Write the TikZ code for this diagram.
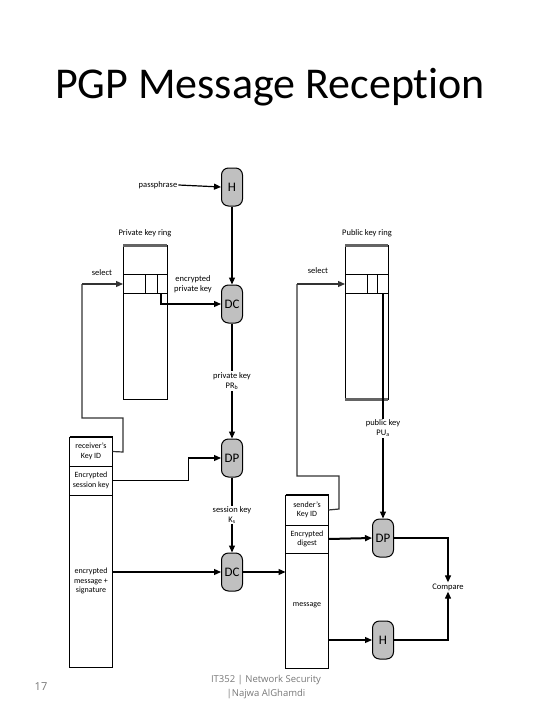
\documentclass[tikz,border=0pt]{standalone}
\usepackage{fontspec}
\setmainfont[Ligatures=NoCommon]{Carlito}
\newfontfamily\footfont{Open Sans}
\usetikzlibrary{arrows.meta,positioning}
\definecolor{boxgray}{RGB}{192,192,192}
\definecolor{edgegray}{RGB}{100,100,100}
\definecolor{footgray}{RGB}{120,120,120}
\tikzset{
  crypt/.style={draw, line width=1pt, fill=boxgray, rounded corners=7pt,
    minimum width=21pt, minimum height=38pt, inner sep=0pt,
    font=\fontsize{13}{13}\selectfont},
  field/.style={draw, line width=1pt, minimum width=43pt, inner sep=1pt,
    outer sep=0pt, align=center, font=\fontsize{8}{9.5}\selectfont},
  lbl/.style={font=\fontsize{8.5}{10}\selectfont, align=center, inner sep=1pt},
  conn/.style={line width=1.2pt, -{Triangle[length=7pt,width=6pt]}},
  selline/.style={line width=1.2pt, black!80},
}
\begin{document}
\begin{tikzpicture}[x=1pt, y=-1pt]
  \useasboundingbox (0,0) rectangle (540,720);
  % Title
  \node[anchor=base, font=\fontsize{44}{44}\selectfont] (title) at (270,98) {PGP Message Reception};

  % Private key ring
  \node[lbl] (prvlbl) at (145,233) {Private key ring};
  \draw[line width=1pt] (123,245) rectangle (167,399);
  \draw[line width=0.5pt] (123,274) rectangle (167,293)
    (145,274) -- (145,293) (157,274) -- (157,293);
  \draw[line width=3pt, edgegray] (123,245) -- (167,245);
  \coordinate (prvsel) at (123,284);
  \coordinate (prvout) at (161,293);

  % Public key ring
  \node[lbl] (publbl) at (367,233) {Public key ring};
  \draw[line width=1pt] (345,245) rectangle (388,399);
  \draw[line width=0.5pt] (345,274) rectangle (388,293)
    (367,274) -- (367,293) (377,274) -- (377,293);
  \draw[line width=3pt, edgegray] (345,245) -- (388,245) (345,399) -- (388,399);
  \coordinate (pubsel) at (345,284);
  \coordinate (pubout) at (383,293);

  % Incoming message (left)
  \node[field, minimum height=29pt] (rkid) at (91,451.5) {receiver's\\Key ID};
  \node[field, minimum height=29pt, below=0pt of rkid] (esk) {Encrypted\\session key};
  \node[field, minimum height=172pt, below=0pt of esk] (ems) {encrypted\\message +\\signature};
  \draw[line width=2.5pt] (rkid.north west) -- (rkid.north east);

  % Decrypted message (right)
  \node[field, minimum height=30pt] (skid) at (307,510) {sender's\\Key ID};
  \node[field, minimum height=28pt, below=0pt of skid] (edig) {Encrypted\\digest};
  \node[field, minimum height=115pt, below=0pt of edig] (msg) {\raisebox{12pt}{message}};
  \draw[line width=2.5pt] (skid.north west) -- (skid.north east);

  % Crypto steps
  \node[crypt] (h1) at (232,187) {H};
  \node[crypt] (dc1) at (232,304) {DC};
  \node[crypt] (dp1) at (232,458) {DP};
  \node[crypt] (dc2) at (232,572) {DC};
  \node[crypt] (dp2) at (383,538) {DP};
  \node[crypt] (h2) at (383,640) {H};
  \node[lbl] (cmp) at (448,587) {Compare};

  % Texts
  \node[lbl] (pass) at (158,185) {passphrase};
  \node[lbl] (epk) at (193,284) {encrypted\\private key};
  \node[lbl] (sel1) at (102,273) {select};
  \node[lbl] (sel2) at (318,271) {select};

  % Connectors
  \draw[conn] (pass.east) -- (h1.west);
  \draw[conn] (h1.south) -- (dc1.north);
  \draw[conn] (prvout) |- (dc1.west);
  \draw[conn] (dc1.south) -- node[lbl, fill=white] {private key\\PR\textsubscript{b}} (dp1.north);
  \draw[conn] (esk.east) -- ++(76,0) |- (dp1.west);
  \draw[conn] (dp1.south) -- node[lbl, fill=white] {session key\\K\textsubscript{s}} (dc2.north);
  \draw[conn] (ems.east |- dc2) -- (dc2.west);
  \draw[conn] (dc2.east) -- (msg.west |- dc2);
  \draw[selline] (rkid.east) -- (123,452) -- (123,418) -- (82,418) -- (82,284);
  \draw[conn, selline] (82,284) -- (prvsel);
  \draw[selline] (skid.east) -- (339,509) -- (339,476) -- (297,476) -- (297,284);
  \draw[conn, selline] (297,284) -- (pubsel);
  \draw[conn] (pubout) -- node[lbl, fill=white, pos=0.6] {public key\\PU\textsubscript{a}} (dp2.north);
  \draw[conn, line width=2pt] (edig.east) -- (dp2.west);
  \draw[conn] (dp2.east) -| (cmp.north);
  \draw[conn] (msg.east |- h2) -- (h2.west);
  \draw[conn] (h2.east) -| (cmp.south);

  % Footer
  \node[font=\footfont\fontsize{11}{11}\selectfont, text=footgray] (page) at (41,687) {17};
  \node[font=\footfont\fontsize{9.5}{14}\selectfont, text=footgray, align=center] (foot) at (266,687)
    {IT352 | Network Security\\|Najwa AlGhamdi};
\end{tikzpicture}
\end{document}
